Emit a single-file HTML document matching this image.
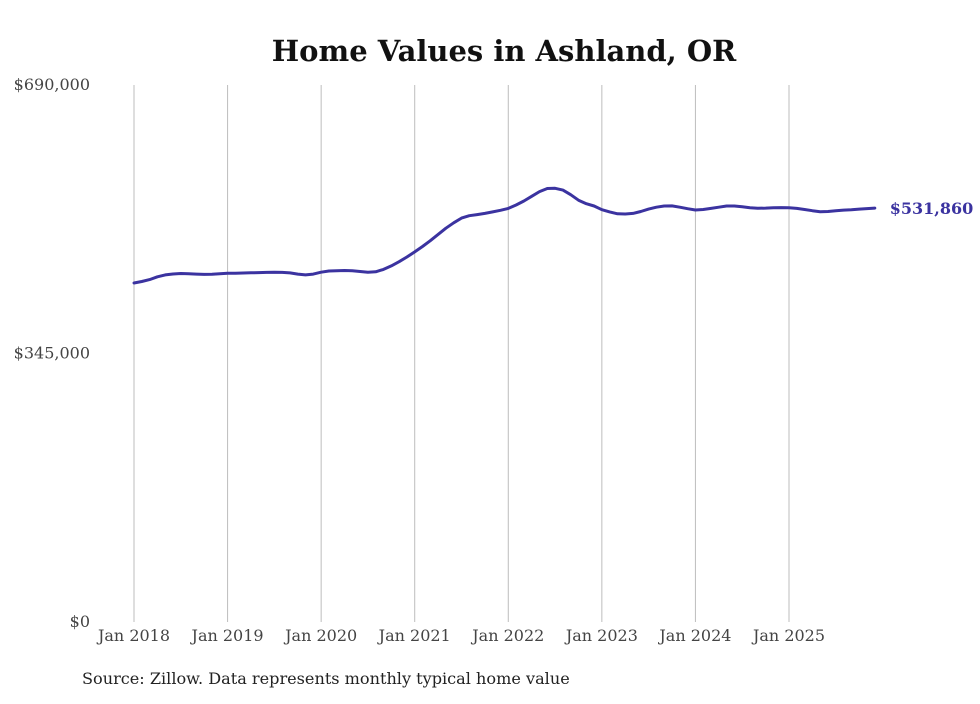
<!DOCTYPE html>
<html><head><meta charset="utf-8"><style>
body{margin:0;background:#fff;}
svg text{font-family:"DejaVu Serif","Liberation Serif",serif;}
</style></head><body>
<svg id="chart" width="980" height="699" viewBox="0 0 980 699" xmlns="http://www.w3.org/2000/svg">
<text x="504" y="61" text-anchor="middle" font-size="29" font-weight="bold" fill="#111">Home Values in Ashland, OR</text>
<g id="grid"></g><g id="yaxis"></g><g id="xaxis"></g><g id="series"></g>
<text x="82" y="684" font-size="16.1" fill="#222">Source: Zillow. Data represents monthly typical home value</text>
</svg>
<script>
const yTicks=[0,345000,690000];
const yTickLabels=["$0","$345,000","$690,000"];
const xTickMonths=[0,12,24,36,48,60,72,84];
const xTickLabels=["Jan 2018","Jan 2019","Jan 2020","Jan 2021","Jan 2022","Jan 2023","Jan 2024","Jan 2025"];
const values=[435.6,437.5,440,443.5,446,447.2,447.8,447.5,447,446.6,446.8,447.4,
448,448.2,448.4,448.7,449,449.2,449.3,449.2,448.5,447,446,447,
449.5,451,451.4,451.6,451.3,450.4,449.3,450,453,457.5,463,469,
475.5,482.5,490,498,506,513,519,522,523.5,525,527,529,
531.5,535.8,541,547,553,557,557.3,555,549,542,537.5,534.5,
529.8,527,524.5,524.3,525,527.5,530.5,533,534.5,534.7,533,531,
529.4,530,531.5,533,534.5,534.5,533.5,532.2,531.6,531.8,532.3,532.5,
532.3,531.5,530,528.5,527.2,527.5,528.5,529.2,529.8,530.5,531.2,531.86];
const endLabel="$531,860";
const NS="http://www.w3.org/2000/svg";
const x=m=>134+m*(789-134)/84;
const y=v=>622-v/690000*537;
function mk(tag,attrs,parent,text){const e=document.createElementNS(NS,tag);for(const k in attrs)e.setAttribute(k,attrs[k]);if(text!==undefined)e.textContent=text;parent.appendChild(e);return e;}
const grid=document.getElementById('grid'),xa=document.getElementById('xaxis'),ya=document.getElementById('yaxis'),se=document.getElementById('series');
xTickMonths.forEach((m,i)=>{
 const l=mk('line',{x1:x(m),x2:x(m),y1:85,y2:622,stroke:'#bdbdbd','stroke-width':1},grid);
 
 
 const t=mk('text',{x:x(m),y:641,'text-anchor':'middle','font-size':16,fill:'#444'},xa,xTickLabels[i]);
 
 
});
yTicks.forEach((v,i)=>{
 const t=mk('text',{x:90,y:y(v)+5,'text-anchor':'end','font-size':16,fill:'#444'},ya,yTickLabels[i]);
 
 
});
const d=values.map((v,i)=>(i?'L':'M')+x(i).toFixed(1)+','+y(v*1000).toFixed(1)).join('');
const p=mk('path',{d:d,fill:'none',stroke:'#3b33a0','stroke-width':3,'stroke-linejoin':'round','stroke-linecap':'round'},se);


const last=values.length-1;
const lt=mk('text',{x:x(last)+15,y:y(values[last]*1000)+6,'font-size':16,'font-weight':'bold',fill:'#3b33a0'},se,endLabel);


</script>
</body></html>
